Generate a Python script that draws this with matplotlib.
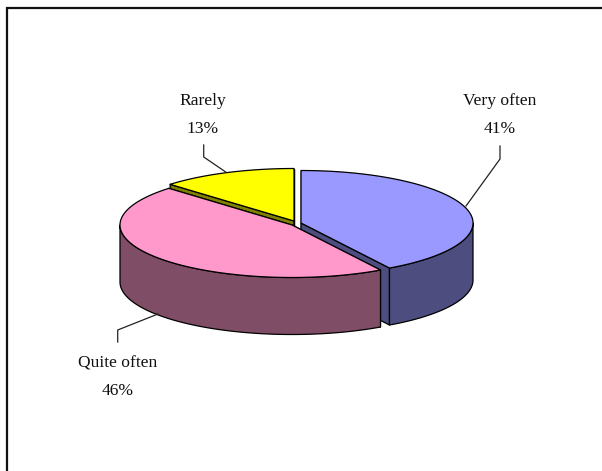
import numpy as np
import matplotlib
matplotlib.use("Agg")
import matplotlib.pyplot as plt
from matplotlib.patches import Polygon

categories = ["Very often", "Quite often", "Rarely"]
values = [41.4, 45.9, 12.7]
face_colors = ["#9999FF", "#FF99CC", "#FFFF00"]
side_colors = ["#4D4D80", "#804D66", "#808000"]

W, H = 602, 471
fig = plt.figure(figsize=(W / 100, H / 100), dpi=100)
ax = fig.add_axes([0, 0, 1, 1])
ax.set_xlim(0, W)
ax.set_ylim(H, 0)
ax.axis("off")

# Frame: only the top and left edges fall inside the picture
ax.plot([7, 7, W], [H, 8.3, 8.3], color="#111111", lw=1.6, solid_joinstyle="miter")

RY, DEPTH = 52.5, 57
centers = {"Very often": (301, 223), "Quite often": (292, 225), "Rarely": (294, 221)}
radii = {"Very often": 172, "Quite often": 172, "Rarely": 173}
start = 90.0
spans = {}
for c, v in zip(categories, values):
    spans[c] = (start, start - v * 3.6)
    start -= v * 3.6

for c in ["Rarely", "Very often", "Quite often"]:
    i = categories.index(c)
    ctr = centers[c]
    a0, a1 = spans[c]
    t = np.radians(np.linspace(a0, a1, 400))
    top = np.column_stack([ctr[0] + radii[c] * np.cos(t), ctr[1] - RY * np.sin(t)])
    e = dict(ec="black", lw=0.9, joinstyle="round")
    # radial walls
    for end in (top[0], top[-1]):
        q = np.array([ctr, end, end + [0, DEPTH], np.array(ctr) + [0, DEPTH]])
        ax.add_patch(Polygon(q, fc=side_colors[i], **e))
    # outer wall: part of the rim facing the viewer
    front = top[np.sin(t) <= 0]
    if len(front):
        wall = np.vstack([front, (front + [0, DEPTH])[::-1]])
        ax.add_patch(Polygon(wall, fc=side_colors[i], **e))
    ax.add_patch(Polygon(np.vstack([[ctr], top]), fc=face_colors[i], **e))

labels = {
    "Very often": (500, 101, 129),
    "Quite often": (118, 364, 391),
    "Rarely": (203, 101, 129),
}
leaders = {
    "Very often": [(500, 146), (500, 159), (466, 206)],
    "Quite often": [(117.7, 342), (117.7, 330), (158, 314)],
    "Rarely": [(203.7, 145), (203.7, 157), (225.7, 172)],
}
for c, v in zip(categories, values):
    x, y1, y2 = labels[c]
    ax.text(x, y1, c, ha="center", va="center", family="Liberation Serif", fontsize=12.6, color="#111111")
    ax.text(x, y2, f"{v:.0f}%", ha="center", va="center", family="Liberation Serif", fontsize=12.6, color="#111111")
    pts = np.array(leaders[c])
    ax.plot(pts[:, 0], pts[:, 1], color="#222222", lw=0.9)

fig.savefig("out.png", dpi=100)
